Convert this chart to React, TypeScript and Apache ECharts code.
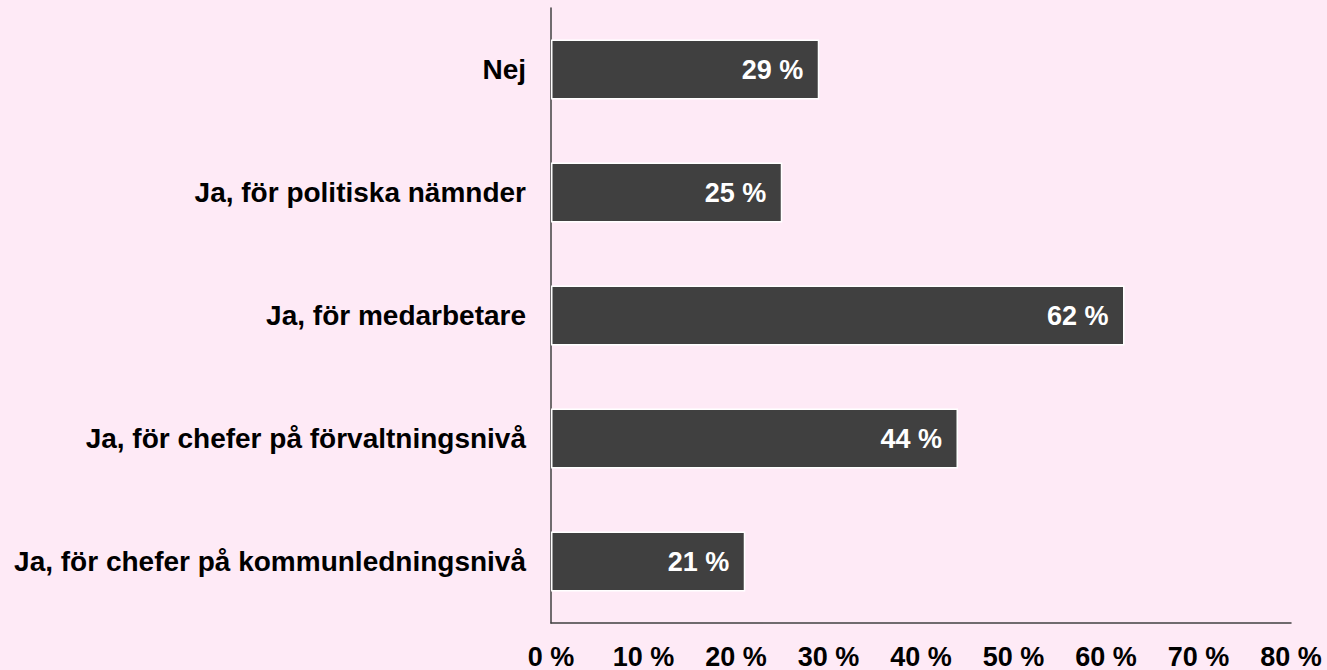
import React, { useEffect, useRef } from "react";
import * as echarts from "echarts";

const categories = [
  "Ja, för chefer på kommunledningsnivå",
  "Ja, för chefer på förvaltningsnivå",
  "Ja, för medarbetare",
  "Ja, för politiska nämnder",
  "Nej",
];
const values = [21, 44, 62, 25, 29];
const xMin = 0;
const xMax = 80;
const xInterval = 10;

export default function App() {
  const ref = useRef<HTMLDivElement>(null);
  useEffect(() => {
    if (!ref.current) return;
    const chart = echarts.init(ref.current, null, { renderer: "svg" });
    const font = "Arial, 'Liberation Sans', sans-serif";
    chart.setOption({
      animation: false,
      backgroundColor: "#FEEAF6",
      grid: { left: 551, right: 36, top: 8, bottom: 45, containLabel: false },
      xAxis: {
        type: "value",
        min: xMin,
        max: xMax,
        interval: xInterval,
        axisLine: { show: true, lineStyle: { color: "#404040", width: 1.5 } },
        axisTick: { show: false },
        splitLine: { show: false },
        axisLabel: {
          formatter: (v: number) => `${v} %`,
          color: "#000",
          fontFamily: font,
          fontWeight: "bold",
          fontSize: 27,
          margin: 20,
        },
      },
      yAxis: {
        type: "category",
        data: categories,
        axisLine: { show: true, lineStyle: { color: "#404040", width: 1.5 } },
        axisTick: { show: false },
        axisLabel: {
          color: "#000",
          fontFamily: font,
          fontWeight: "bold",
          fontSize: 28,
          margin: 25,
        },
      },
      series: [
        {
          type: "bar",
          data: values,
          barWidth: 60,
          itemStyle: { color: "#404040", borderColor: "#ffffff", borderWidth: 1.5 },
          label: {
            show: true,
            position: "insideRight",
            distance: 16,
            formatter: (p: any) => `${p.value} %`,
            color: "#fff",
            fontFamily: font,
            fontWeight: "bold",
            fontSize: 27,
          },
        },
      ],
    });
    return () => chart.dispose();
  }, []);
  return <div ref={ref} style={{ width: 1327, height: 670, position: "absolute", left: 0, top: 0 }} />;
}
